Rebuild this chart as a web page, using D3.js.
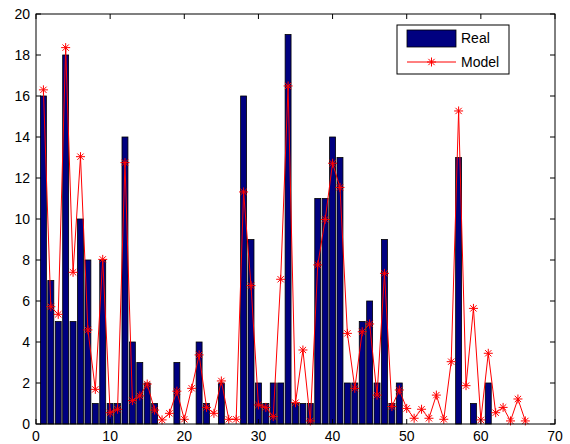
<!DOCTYPE html>
<html><head><meta charset="utf-8">
<script src="https://cdn.jsdelivr.net/npm/d3@7"></script>
<style>body{margin:0;background:#fff;} svg{display:block;}</style>
</head><body>
<div id="chart"></div>
<script>
const realX = d3.range(1, 62);
const realValues = [16,7,5,18,5,10,8,1,8,1,1,14,4,3,2,1,0,0,3,0,0,4,1,0,2,0,0,16,9,2,1,2,2,19,1,1,1,11,11,14,13,2,2,5,6,2,9,1,2,0,0,0,0,0,0,0,13,0,1,0,2];
const modelX = d3.range(1, 67);
const modelValues = [16.3,5.72,5.35,18.36,7.4,13.04,4.59,1.69,8.03,0.55,0.72,12.75,1.14,1.37,1.95,0.68,0.2,0.52,1.6,0.23,1.74,3.37,0.81,0.52,2.1,0.23,0.23,11.32,6.75,0.93,0.81,0.36,7.06,16.49,1.04,3.61,0.15,7.76,9.98,12.72,11.54,4.42,1.74,4.5,4.88,1.41,7.35,0.85,1.66,0.76,0.28,0.72,0.28,1.41,0.23,3.04,15.27,1.87,5.64,0.2,3.45,0.55,0.81,0.15,1.22,0.15];
const xTicks = [0,10,20,30,40,50,60,70];
const yTicks = [0,2,4,6,8,10,12,14,16,18,20];
const legendLabels = ["Real","Model"];

const W = 570, H = 444;
const L = 36, R = 555, T = 14, B = 424;
const svg = d3.select("#chart").append("svg").attr("width", W).attr("height", H);
const x = d3.scaleLinear().domain([0,70]).range([L,R]);
const y = d3.scaleLinear().domain([0,20]).range([B,T]);
const font = "Arial, 'Liberation Sans', Helvetica, sans-serif";

// bars
const bw = (x(0.8) - x(0));
svg.append("g").selectAll("rect").data(realX.map((d,i)=>[d, realValues[i]])).join("rect")
  .attr("x", d => x(d[0]) - bw/2)
  .attr("y", d => y(d[1]))
  .attr("width", bw)
  .attr("height", d => y(0) - y(d[1]))
  .attr("fill", "#000080")
  .attr("stroke", "#000")
  .attr("stroke-width", 0.8);

// model line
const pts = modelX.map((d,i)=>[d, modelValues[i]]);
svg.append("path").datum(pts)
  .attr("d", d3.line().x(d=>x(d[0])).y(d=>y(d[1])))
  .attr("fill","none").attr("stroke","#ff0000").attr("stroke-width",1);

function star(g, cx, cy, s) {
  const p = `M${cx-s},${cy}L${cx+s},${cy}M${cx},${cy-s}L${cx},${cy+s}` +
    `M${cx-s*0.7},${cy-s*0.7}L${cx+s*0.7},${cy+s*0.7}M${cx-s*0.7},${cy+s*0.7}L${cx+s*0.7},${cy-s*0.7}`;
  g.append("path").attr("d", p).attr("stroke","#ff0000").attr("stroke-width",1).attr("fill","none");
}
const mg = svg.append("g");
pts.forEach(d => star(mg, x(d[0]), y(d[1]), 4.5));

// axes box
svg.append("rect").attr("x",L).attr("y",T).attr("width",R-L).attr("height",B-T)
  .attr("fill","none").attr("stroke","#000").attr("stroke-width",1);

const tl = 5;
const ax = svg.append("g");
xTicks.forEach(t => {
  ax.append("line").attr("x1",x(t)).attr("x2",x(t)).attr("y1",B).attr("y2",B-tl).attr("stroke","#000");
  ax.append("line").attr("x1",x(t)).attr("x2",x(t)).attr("y1",T).attr("y2",T+tl).attr("stroke","#000");
  ax.append("text").attr("x",x(t)).attr("y",B+17).attr("text-anchor","middle")
    .attr("font-family",font).attr("font-size",14).text(t);
});
yTicks.forEach(t => {
  ax.append("line").attr("x1",L).attr("x2",L+tl).attr("y1",y(t)).attr("y2",y(t)).attr("stroke","#000");
  ax.append("line").attr("x1",R).attr("x2",R-tl).attr("y1",y(t)).attr("y2",y(t)).attr("stroke","#000");
  ax.append("text").attr("x",L-6).attr("y",y(t)).attr("dy","0.36em").attr("text-anchor","end")
    .attr("font-family",font).attr("font-size",14).text(t);
});

// legend
const lg = svg.append("g");
lg.append("rect").attr("x",397).attr("y",25).attr("width",112).attr("height",49)
  .attr("fill","#fff").attr("stroke","#000").attr("stroke-width",1);
lg.append("rect").attr("x",407).attr("y",30).attr("width",49).attr("height",17)
  .attr("fill","#000080").attr("stroke","#000").attr("stroke-width",0.8);
lg.append("text").attr("x",461).attr("y",43).attr("font-family",font).attr("font-size",14).text(legendLabels[0]);
lg.append("line").attr("x1",407).attr("x2",456).attr("y1",62).attr("y2",62).attr("stroke","#ff0000").attr("stroke-width",1);
star(lg, 431.5, 62, 4.5);
lg.append("text").attr("x",461).attr("y",67).attr("font-family",font).attr("font-size",14).text(legendLabels[1]);
</script>
</body></html>
